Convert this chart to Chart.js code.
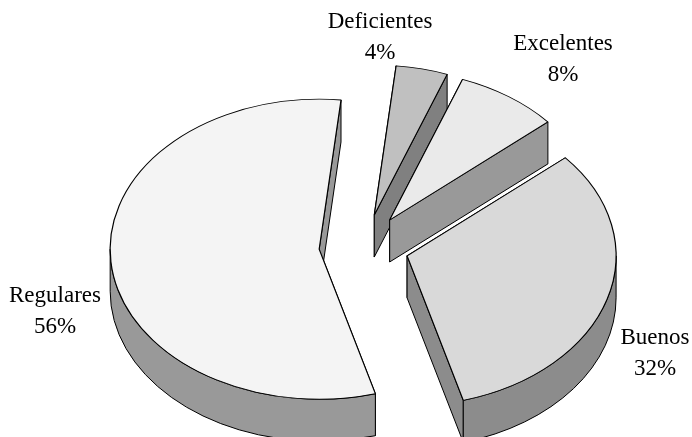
<!DOCTYPE html>
<html>
<head>
<meta charset="utf-8">
<script src="https://cdn.jsdelivr.net/npm/chart.js@4"></script>
<style>
  html, body { margin: 0; padding: 0; background: #fff; }
  #wrap { width: 692px; height: 437px; position: relative; overflow: hidden; }
</style>
</head>
<body>
<div id="wrap"><canvas id="pie" width="692" height="437"></canvas></div>
<script>
// Datos de la encuesta
const categories = ["Deficientes", "Excelentes", "Buenos", "Regulares"];
const percents = [4, 8, 32, 56];
const topColors = ["#c0c0c0", "#eaeaea", "#d9d9d9", "#f4f4f4"];
const wallColors = ["#808080", "#999999", "#8c8c8c", "#999999"];
const endFaceColors = ["#808080", "#999999", "#8c8c8c", "#999999"];

// Vista 3D
const tilt = 0.718;     // aplastamiento vertical de la elipse
const depth = 42;       // grosor del disco
const explode = 45;     // separacion de cada porcion
const radius = 209;

// Centro del texto y linea base de cada etiqueta
const labelAnchors = [[380, 28], [563, 50], [655, 344], [55, 302]];
const lineGap = 31;

function sliceGeometry(arc) {
  const mid = (arc.startAngle + arc.endAngle) / 2;
  return {
    cx: arc.x + Math.cos(mid) * explode,
    cy: arc.y + Math.sin(mid) * explode * tilt,
    r: arc.outerRadius,
    start: arc.startAngle,
    end: arc.endAngle,
  };
}

function drawFace(ctx, g, angle, color) {
  const ex = g.cx + Math.cos(angle) * g.r;
  const ey = g.cy + Math.sin(angle) * g.r * tilt;
  ctx.beginPath();
  ctx.moveTo(g.cx, g.cy);
  ctx.lineTo(ex, ey);
  ctx.lineTo(ex, ey + depth);
  ctx.lineTo(g.cx, g.cy + depth);
  ctx.closePath();
  ctx.fillStyle = color;
  ctx.fill();
  ctx.stroke();
}

function drawOuterWall(ctx, g, color) {
  const lo = Math.max(g.start, 0);
  const hi = Math.min(g.end, Math.PI);
  if (hi <= lo) return;
  ctx.beginPath();
  ctx.ellipse(g.cx, g.cy, g.r, g.r * tilt, 0, lo, hi);
  ctx.ellipse(g.cx, g.cy + depth, g.r, g.r * tilt, 0, hi, lo, true);
  ctx.closePath();
  ctx.fillStyle = color;
  ctx.fill();
  ctx.stroke();
}

const pie3d = {
  id: "pie3d",
  beforeDatasetDraw(chart, args) {
    const ctx = chart.ctx;
    const arcs = args.meta.data;

    // paredes primero
    ctx.save();
    ctx.strokeStyle = "#000";
    ctx.lineWidth = 1;
    ctx.lineJoin = "round";
    arcs.forEach((arc, i) => {
      const g = sliceGeometry(arc);
      drawFace(ctx, g, g.start, endFaceColors[i]);
      drawFace(ctx, g, g.end, endFaceColors[i]);
      drawOuterWall(ctx, g, wallColors[i]);
    });
    ctx.restore();

    // tapas con el ArcElement de Chart.js
    arcs.forEach((arc) => {
      const mid = (arc.startAngle + arc.endAngle) / 2;
      ctx.save();
      ctx.translate(Math.cos(mid) * explode, arc.y + Math.sin(mid) * explode * tilt);
      ctx.scale(1, tilt);
      ctx.translate(0, -arc.y);
      arc.draw(ctx);
      ctx.restore();
    });
    return false;
  },
  afterDraw(chart) {
    const ctx = chart.ctx;
    ctx.save();
    ctx.font = '23px "Liberation Serif"';
    ctx.fillStyle = "#000";
    ctx.textAlign = "center";
    ctx.textBaseline = "alphabetic";
    categories.forEach((name, i) => {
      const [x, y] = labelAnchors[i];
      ctx.fillText(name, x, y);
      ctx.fillText(percents[i] + "%", x, y + lineGap);
    });
    ctx.restore();
  },
};

new Chart(document.getElementById("pie"), {
  type: "pie",
  data: {
    labels: categories,
    datasets: [
      {
        data: percents,
        backgroundColor: topColors,
        borderColor: "#000",
        borderWidth: 1.2,
        clip: false,
      },
    ],
  },
  options: {
    responsive: false,
    animation: false,
    radius: radius,
    rotation: 6,
    layout: { padding: { left: 36, top: 56 } },
    plugins: { legend: { display: false }, tooltip: { enabled: false } },
  },
  plugins: [pie3d],
});
</script>
</body>
</html>
